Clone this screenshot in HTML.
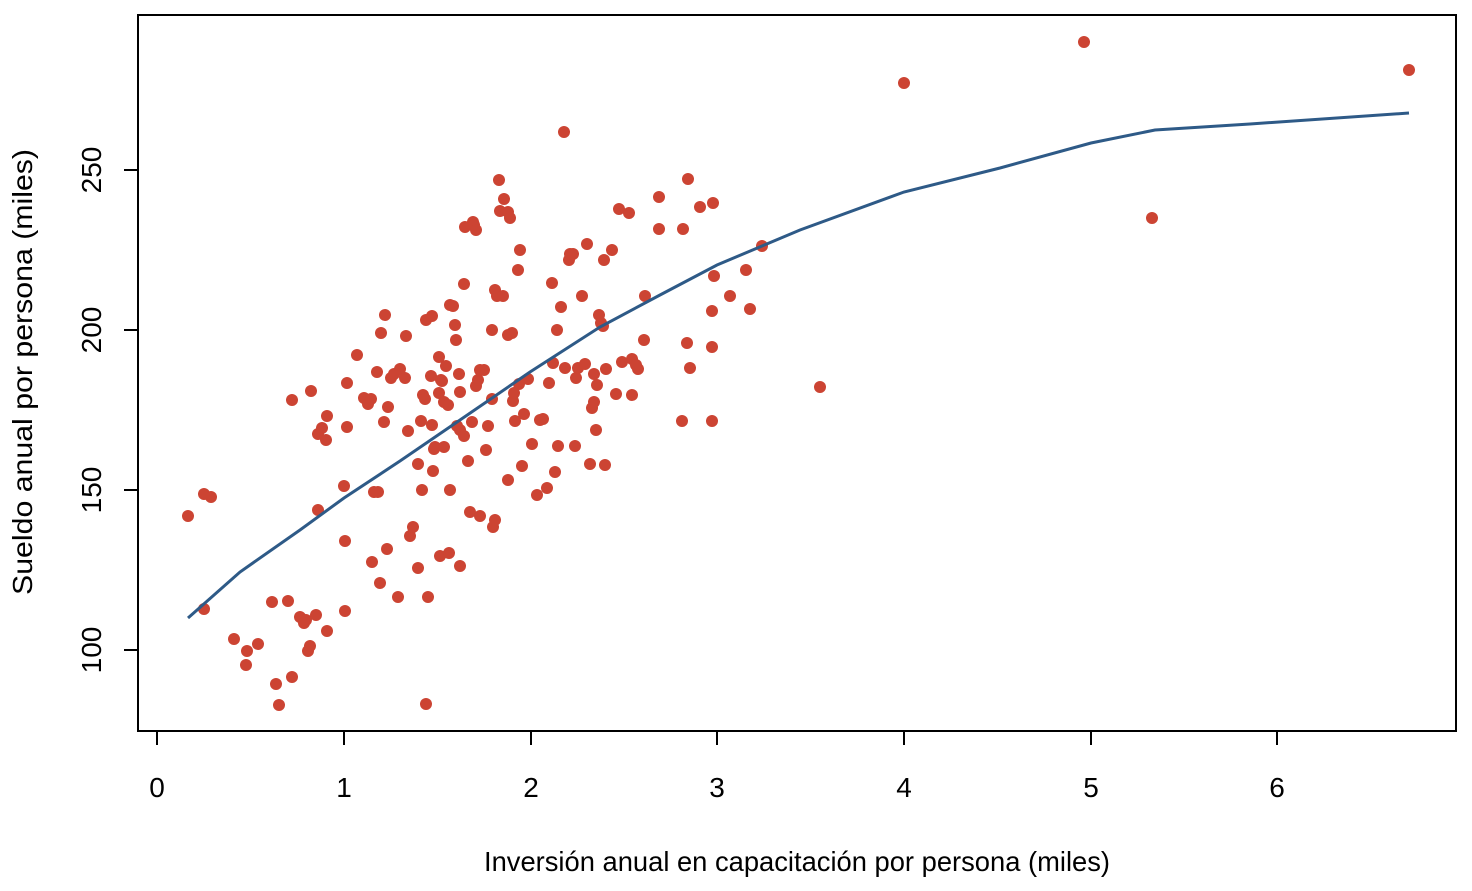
<!DOCTYPE html>
<html><head><meta charset="utf-8"><style>html,body{margin:0;padding:0;background:#fff}</style></head>
<body>
<svg width="1472" height="886" xmlns="http://www.w3.org/2000/svg" font-family="Liberation Sans, Arial, sans-serif">
<rect x="0" y="0" width="1472" height="886" fill="#fff"/>
<rect x="138" y="15" width="1318" height="716" fill="none" stroke="#000" stroke-width="2"/>
<g stroke="#000" stroke-width="2">
<line x1="157" y1="731" x2="1277" y2="731"/>
<line x1="157" y1="731" x2="157" y2="745"/><line x1="344" y1="731" x2="344" y2="745"/><line x1="531" y1="731" x2="531" y2="745"/><line x1="717" y1="731" x2="717" y2="745"/><line x1="904" y1="731" x2="904" y2="745"/><line x1="1091" y1="731" x2="1091" y2="745"/><line x1="1277" y1="731" x2="1277" y2="745"/>
<line x1="138" y1="170" x2="138" y2="650"/>
<line x1="124" y1="170" x2="138" y2="170"/><line x1="124" y1="330" x2="138" y2="330"/><line x1="124" y1="490" x2="138" y2="490"/><line x1="124" y1="650" x2="138" y2="650"/>
</g>
<g font-size="28" text-anchor="middle" fill="#000">
<text x="157" y="797">0</text><text x="344" y="797">1</text><text x="531" y="797">2</text><text x="717" y="797">3</text><text x="904" y="797">4</text><text x="1091" y="797">5</text><text x="1277" y="797">6</text>
<text transform="translate(101,170) rotate(-90)">250</text>
<text transform="translate(101,330) rotate(-90)">200</text>
<text transform="translate(101,490) rotate(-90)">150</text>
<text transform="translate(101,650) rotate(-90)">100</text>
<text x="797" y="871" textLength="626" lengthAdjust="spacingAndGlyphs">Inversión anual en capacitación por persona (miles)</text>
<text transform="translate(32,372) rotate(-90)" textLength="446" lengthAdjust="spacingAndGlyphs">Sueldo anual por persona (miles)</text>
</g>
<g fill="#cc4433">
<circle cx="188" cy="516" r="6"/><circle cx="204" cy="494" r="6"/><circle cx="211" cy="497" r="6"/><circle cx="204" cy="609" r="6"/><circle cx="234" cy="639" r="6"/><circle cx="247" cy="651" r="6"/><circle cx="246" cy="665" r="6"/><circle cx="258" cy="644" r="6"/><circle cx="272" cy="602" r="6"/><circle cx="276" cy="684" r="6"/><circle cx="279" cy="705" r="6"/><circle cx="288" cy="601" r="6"/><circle cx="292" cy="677" r="6"/><circle cx="292" cy="400" r="6"/><circle cx="300" cy="617" r="6"/><circle cx="304" cy="623" r="6"/><circle cx="306" cy="620" r="6"/><circle cx="308" cy="651" r="6"/><circle cx="310" cy="646" r="6"/><circle cx="311" cy="391" r="6"/><circle cx="316" cy="615" r="6"/><circle cx="318" cy="510" r="6"/><circle cx="318" cy="434" r="6"/><circle cx="322" cy="428" r="6"/><circle cx="326" cy="440" r="6"/><circle cx="327" cy="416" r="6"/><circle cx="327" cy="631" r="6"/><circle cx="345" cy="611" r="6"/><circle cx="345" cy="541" r="6"/><circle cx="347" cy="427" r="6"/><circle cx="344" cy="486" r="6"/><circle cx="347" cy="383" r="6"/><circle cx="357" cy="355" r="6"/><circle cx="364" cy="398" r="6"/><circle cx="368" cy="404" r="6"/><circle cx="371" cy="399" r="6"/><circle cx="372" cy="562" r="6"/><circle cx="374" cy="492" r="6"/><circle cx="378" cy="492" r="6"/><circle cx="377" cy="372" r="6"/><circle cx="380" cy="583" r="6"/><circle cx="381" cy="333" r="6"/><circle cx="385" cy="315" r="6"/><circle cx="384" cy="422" r="6"/><circle cx="387" cy="549" r="6"/><circle cx="388" cy="407" r="6"/><circle cx="391" cy="378" r="6"/><circle cx="394" cy="374" r="6"/><circle cx="398" cy="597" r="6"/><circle cx="400" cy="369" r="6"/><circle cx="406" cy="336" r="6"/><circle cx="405" cy="378" r="6"/><circle cx="408" cy="431" r="6"/><circle cx="410" cy="536" r="6"/><circle cx="413" cy="527" r="6"/><circle cx="418" cy="568" r="6"/><circle cx="418" cy="464" r="6"/><circle cx="421" cy="421" r="6"/><circle cx="422" cy="490" r="6"/><circle cx="423" cy="395" r="6"/><circle cx="425" cy="399" r="6"/><circle cx="426" cy="320" r="6"/><circle cx="426" cy="704" r="6"/><circle cx="428" cy="597" r="6"/><circle cx="432" cy="316" r="6"/><circle cx="431" cy="376" r="6"/><circle cx="432" cy="425" r="6"/><circle cx="434" cy="449" r="6"/><circle cx="433" cy="471" r="6"/><circle cx="435" cy="447" r="6"/><circle cx="439" cy="393" r="6"/><circle cx="440" cy="556" r="6"/><circle cx="442" cy="381" r="6"/><circle cx="439" cy="357" r="6"/><circle cx="441" cy="380" r="6"/><circle cx="444" cy="402" r="6"/><circle cx="444" cy="447" r="6"/><circle cx="446" cy="366" r="6"/><circle cx="448" cy="405" r="6"/><circle cx="449" cy="553" r="6"/><circle cx="450" cy="305" r="6"/><circle cx="450" cy="490" r="6"/><circle cx="453" cy="306" r="6"/><circle cx="455" cy="325" r="6"/><circle cx="456" cy="340" r="6"/><circle cx="457" cy="426" r="6"/><circle cx="459" cy="374" r="6"/><circle cx="460" cy="392" r="6"/><circle cx="460" cy="566" r="6"/><circle cx="460" cy="430" r="6"/><circle cx="464" cy="284" r="6"/><circle cx="465" cy="227" r="6"/><circle cx="464" cy="436" r="6"/><circle cx="468" cy="461" r="6"/><circle cx="470" cy="512" r="6"/><circle cx="472" cy="422" r="6"/><circle cx="473" cy="222" r="6"/><circle cx="474" cy="225" r="6"/><circle cx="476" cy="230" r="6"/><circle cx="476" cy="386" r="6"/><circle cx="478" cy="380" r="6"/><circle cx="480" cy="370" r="6"/><circle cx="480" cy="516" r="6"/><circle cx="484" cy="370" r="6"/><circle cx="486" cy="450" r="6"/><circle cx="488" cy="426" r="6"/><circle cx="492" cy="330" r="6"/><circle cx="492" cy="399" r="6"/><circle cx="493" cy="527" r="6"/><circle cx="495" cy="520" r="6"/><circle cx="495" cy="290" r="6"/><circle cx="497" cy="296" r="6"/><circle cx="499" cy="180" r="6"/><circle cx="500" cy="211" r="6"/><circle cx="503" cy="296" r="6"/><circle cx="504" cy="199" r="6"/><circle cx="508" cy="212" r="6"/><circle cx="508" cy="480" r="6"/><circle cx="508" cy="335" r="6"/><circle cx="510" cy="218" r="6"/><circle cx="512" cy="333" r="6"/><circle cx="513" cy="401" r="6"/><circle cx="514" cy="393" r="6"/><circle cx="515" cy="421" r="6"/><circle cx="518" cy="270" r="6"/><circle cx="519" cy="384" r="6"/><circle cx="520" cy="250" r="6"/><circle cx="522" cy="466" r="6"/><circle cx="524" cy="414" r="6"/><circle cx="528" cy="379" r="6"/><circle cx="532" cy="444" r="6"/><circle cx="537" cy="495" r="6"/><circle cx="540" cy="420" r="6"/><circle cx="543" cy="419" r="6"/><circle cx="547" cy="488" r="6"/><circle cx="549" cy="383" r="6"/><circle cx="552" cy="283" r="6"/><circle cx="553" cy="363" r="6"/><circle cx="555" cy="472" r="6"/><circle cx="557" cy="330" r="6"/><circle cx="558" cy="446" r="6"/><circle cx="561" cy="307" r="6"/><circle cx="564" cy="132" r="6"/><circle cx="565" cy="368" r="6"/><circle cx="569" cy="260" r="6"/><circle cx="570" cy="254" r="6"/><circle cx="573" cy="254" r="6"/><circle cx="575" cy="446" r="6"/><circle cx="576" cy="378" r="6"/><circle cx="578" cy="368" r="6"/><circle cx="582" cy="296" r="6"/><circle cx="585" cy="364" r="6"/><circle cx="587" cy="244" r="6"/><circle cx="590" cy="464" r="6"/><circle cx="592" cy="408" r="6"/><circle cx="594" cy="402" r="6"/><circle cx="594" cy="374" r="6"/><circle cx="596" cy="430" r="6"/><circle cx="597" cy="385" r="6"/><circle cx="599" cy="315" r="6"/><circle cx="601" cy="323" r="6"/><circle cx="603" cy="326" r="6"/><circle cx="605" cy="465" r="6"/><circle cx="606" cy="369" r="6"/><circle cx="604" cy="260" r="6"/><circle cx="612" cy="250" r="6"/><circle cx="616" cy="394" r="6"/><circle cx="619" cy="209" r="6"/><circle cx="622" cy="362" r="6"/><circle cx="629" cy="213" r="6"/><circle cx="632" cy="395" r="6"/><circle cx="632" cy="359" r="6"/><circle cx="636" cy="365" r="6"/><circle cx="638" cy="369" r="6"/><circle cx="645" cy="296" r="6"/><circle cx="644" cy="340" r="6"/><circle cx="659" cy="197" r="6"/><circle cx="659" cy="229" r="6"/><circle cx="682" cy="421" r="6"/><circle cx="683" cy="229" r="6"/><circle cx="687" cy="343" r="6"/><circle cx="690" cy="368" r="6"/><circle cx="688" cy="179" r="6"/><circle cx="700" cy="207" r="6"/><circle cx="712" cy="421" r="6"/><circle cx="713" cy="203" r="6"/><circle cx="712" cy="311" r="6"/><circle cx="712" cy="347" r="6"/><circle cx="714" cy="276" r="6"/><circle cx="730" cy="296" r="6"/><circle cx="746" cy="270" r="6"/><circle cx="750" cy="309" r="6"/><circle cx="762" cy="246" r="6"/><circle cx="820" cy="387" r="6"/><circle cx="904" cy="83" r="6"/><circle cx="1084" cy="42" r="6"/><circle cx="1152" cy="218" r="6"/><circle cx="1409" cy="70" r="6"/>
</g>
<polyline fill="none" stroke="#2e5a87" stroke-width="3" points="188,618 240,572 300,530 344,498 400,461 460,420 530,372 600,327 660,295 717,265 800,230 904,192 1000,168 1091,143 1155,130 1250,124 1409,113"/>
</svg>
</body></html>
